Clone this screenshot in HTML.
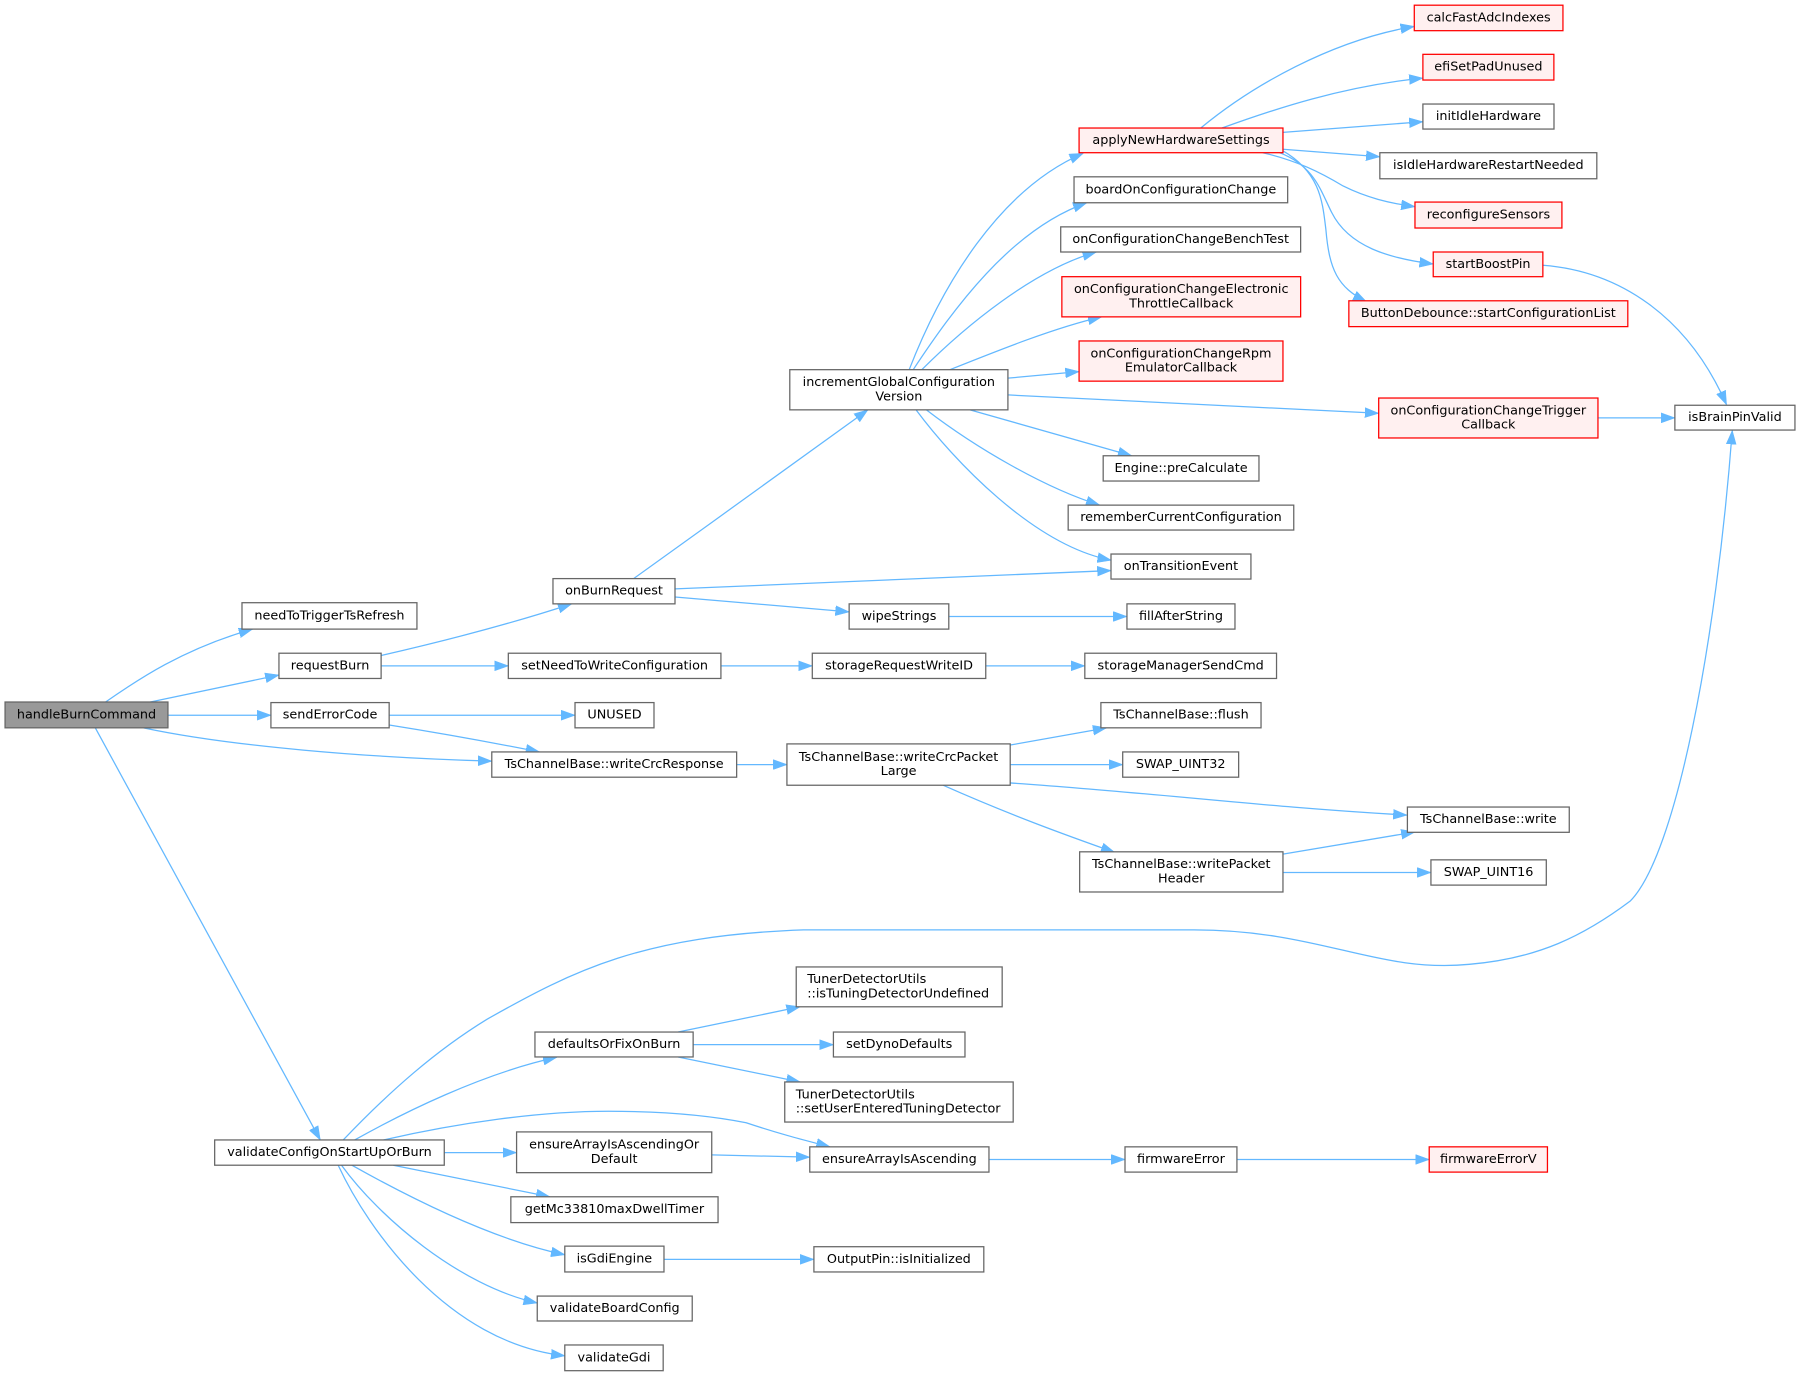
<!DOCTYPE html>
<html><head><meta charset="utf-8"><style>
html,body{margin:0;padding:0;background:#fff;}
svg{display:block;}
text{font-family:"DejaVu Sans","Liberation Sans",sans-serif;font-size:11.15px;fill:#000;dominant-baseline:central;}
.c{text-anchor:middle;}
.n{fill:#fff;stroke:#666;stroke-width:1.1;}
.r{fill:#fff0f0;stroke:#f00;stroke-width:1.1;}
.g{fill:#999;stroke:#666;stroke-width:1.1;}
.e{fill:none;stroke:#63b8ff;stroke-width:1.1;marker-end:url(#ah);}
</style></head><body>
<svg width="1800" height="1376" viewBox="0 0 1568 1198.6" xmlns="http://www.w3.org/2000/svg">
<defs>
<marker id="ah" markerUnits="userSpaceOnUse" viewBox="0 0 12 9" refX="12" refY="4.5" markerWidth="12" markerHeight="9" orient="auto">
<path d="M0,0.2 L12,4.5 L0,8.8 z" fill="#63b8ff" stroke="#63b8ff" stroke-width="0.5"/>
</marker>
</defs>
<rect width="1568" height="1198.6" fill="#fff"/>

<!-- edges -->
<path class="e" d="M92,611.5 C120,592 160,565 220,548"/>
<path class="e" d="M131,611.5 L243,588"/>
<path class="e" d="M146.3,623 L236,623"/>
<path class="e" d="M125,634 C200,650 320,660 428.4,663"/>
<path class="e" d="M83,634 L279,993"/>
<path class="e" d="M332,571 C380,560 440,545 498,526"/>
<path class="e" d="M332,580 L442.8,580"/>
<path class="e" d="M339,623 L500.9,623"/>
<path class="e" d="M339,631.5 C380,638 430,647 470,655"/>
<path class="e" d="M552,504 C620,455 690,405 756,357"/>
<path class="e" d="M588,513 L967.8,497"/>
<path class="e" d="M588,520 L739.7,533"/>
<path class="e" d="M628,580 L707.6,580"/>
<path class="e" d="M641.7,666 L685.5,666"/>
<path class="e" d="M299,993 C340,950 380,915 424,888 C500,845 560,815 700,810 L1040,810 C1150,810 1200,848 1280,840 C1340,835 1380,815 1420,785 C1460,745 1495,560 1509,375"/>
<path class="e" d="M309,993 C350,970 420,935 485,921"/>
<path class="e" d="M334,993 C400,978 470,968 530,968 C580,968 620,972 650,978 C680,988 700,993 723,999"/>
<path class="e" d="M387,1004 L450,1004"/>
<path class="e" d="M342.6,1015 L479,1042.5"/>
<path class="e" d="M306.5,1015 C360,1045 430,1080 492,1093"/>
<path class="e" d="M297.5,1015 C330,1060 400,1120 468,1135"/>
<path class="e" d="M294.6,1015 C320,1070 390,1170 492,1181"/>
<path class="e" d="M792,322 C820,250 870,165 943.6,133.5"/>
<path class="e" d="M795.5,322 C830,270 880,200 946.7,176.6"/>
<path class="e" d="M803,322 C840,285 900,235 955,219.5"/>
<path class="e" d="M827.5,322 C870,305 920,285 959.7,276"/>
<path class="e" d="M878,329.4 L940,323.7"/>
<path class="e" d="M878,344 L1201,360"/>
<path class="e" d="M845,357 L985.8,397"/>
<path class="e" d="M807,357 C850,390 910,425 958,440"/>
<path class="e" d="M798,357 C830,400 900,475 968,488"/>
<path class="e" d="M1046,111.5 C1090,75 1160,35 1232,23"/>
<path class="e" d="M1064.5,111.5 C1110,95 1170,75 1239.5,68"/>
<path class="e" d="M1117.6,115.3 L1239.5,106"/>
<path class="e" d="M1117.6,130 L1202,136.5"/>
<path class="e" d="M1100,133 C1130,140 1150,150 1170,162 C1190,172 1210,177 1232.6,180"/>
<path class="e" d="M1114.7,133 C1145,145 1150,165 1160,185 C1175,215 1210,225 1248.5,230"/>
<path class="e" d="M1117,131 C1150,150 1152,175 1155,200 C1158,235 1165,250 1190.5,263"/>
<path class="e" d="M1344,231 C1410,236 1470,275 1504,352.5"/>
<path class="e" d="M1392,364 L1459,364"/>
<path class="e" d="M826.5,537 L981.7,537"/>
<path class="e" d="M858.7,580 L945,580"/>
<path class="e" d="M880,649 L964,634"/>
<path class="e" d="M880,666 L978,666"/>
<path class="e" d="M880,682 C1000,690 1100,703 1225.6,710"/>
<path class="e" d="M821.5,684 C880,710 930,728 971,742.5"/>
<path class="e" d="M1117.6,744 L1232.6,724.7"/>
<path class="e" d="M1117.6,760 L1246.5,760"/>
<path class="e" d="M590.7,899 L697,877"/>
<path class="e" d="M603.8,910 L726,910"/>
<path class="e" d="M590.7,920.7 L697,942.5"/>
<path class="e" d="M620,1006 L705.4,1008"/>
<path class="e" d="M861.5,1010 L980,1010"/>
<path class="e" d="M1077.5,1010 L1245,1010"/>
<path class="e" d="M578.4,1097 L709,1097"/>

<!-- nodes -->
<rect class="g" x="4.4" y="611.5" width="141.9" height="22.5"/><text class="c" x="75.35" y="622.75">handleBurnCommand</text>
<rect class="n" x="210.8" y="525" width="152.4" height="23"/><text class="c" x="287" y="536.5">needToTriggerTsRefresh</text>
<rect class="n" x="243" y="569" width="89" height="22"/><text class="c" x="287.5" y="580">requestBurn</text>
<rect class="n" x="236" y="612" width="103" height="22"/><text class="c" x="287.5" y="623">sendErrorCode</text>
<rect class="n" x="428.4" y="655" width="213.3" height="22"/><text class="c" x="535" y="666">TsChannelBase::writeCrcResponse</text>
<rect class="n" x="187" y="993" width="200" height="22"/><text class="c" x="287" y="1004">validateConfigOnStartUpOrBurn</text>
<rect class="n" x="481.7" y="504" width="106.3" height="22"/><text class="c" x="534.85" y="515">onBurnRequest</text>
<rect class="n" x="442.8" y="569" width="185.2" height="22"/><text class="c" x="535.4" y="580">setNeedToWriteConfiguration</text>
<rect class="n" x="500.9" y="612" width="68.8" height="22"/><text class="c" x="535.3" y="623">UNUSED</text>
<rect class="n" x="688" y="322" width="190" height="35"/><text class="c" x="783" y="333.25">incrementGlobalConfiguration</text><text class="c" x="783" y="345.75">Version</text>
<rect class="n" x="739.7" y="526" width="86.8" height="22"/><text class="c" x="783.1" y="537">wipeStrings</text>
<rect class="n" x="707.6" y="569" width="151.1" height="22"/><text class="c" x="783.15" y="580">storageRequestWriteID</text>
<rect class="n" x="685.5" y="648" width="194.5" height="36"/><text class="c" x="782.75" y="659.75">TsChannelBase::writeCrcPacket</text><text class="c" x="782.75" y="672.25">Large</text>
<rect class="r" x="940" y="111.5" width="177.6" height="21.5"/><text class="c" x="1028.8" y="122.25">applyNewHardwareSettings</text>
<rect class="n" x="935.6" y="154" width="186.1" height="22.6"/><text class="c" x="1028.65" y="165.3">boardOnConfigurationChange</text>
<rect class="n" x="924" y="197.6" width="209" height="21.9"/><text class="c" x="1028.5" y="208.55">onConfigurationChangeBenchTest</text>
<rect class="r" x="925" y="241" width="208" height="35"/><text class="c" x="1029" y="252.25">onConfigurationChangeElectronic</text><text class="c" x="1029" y="264.75">ThrottleCallback</text>
<rect class="r" x="940" y="297" width="177.6" height="35"/><text class="c" x="1028.8" y="308.25">onConfigurationChangeRpm</text><text class="c" x="1028.8" y="320.75">EmulatorCallback</text>
<rect class="n" x="961" y="397" width="135.7" height="22"/><text class="c" x="1028.85" y="408">Engine::preCalculate</text>
<rect class="n" x="930.5" y="440" width="196.5" height="21.7"/><text class="c" x="1028.75" y="450.85">rememberCurrentConfiguration</text>
<rect class="n" x="967.8" y="482.6" width="121.9" height="21.8"/><text class="c" x="1028.75" y="493.5">onTransitionEvent</text>
<rect class="n" x="981.7" y="526" width="94.1" height="22"/><text class="c" x="1028.75" y="537">fillAfterString</text>
<rect class="n" x="945" y="569" width="167" height="22"/><text class="c" x="1028.5" y="580">storageManagerSendCmd</text>
<rect class="n" x="959" y="612" width="139.5" height="22"/><text class="c" x="1028.75" y="623">TsChannelBase::flush</text>
<rect class="n" x="978" y="655" width="101" height="22"/><text class="c" x="1028.5" y="666">SWAP_UINT32</text>
<rect class="n" x="940.5" y="742" width="177.1" height="35"/><text class="c" x="1029" y="753.25">TsChannelBase::writePacket</text><text class="c" x="1029" y="765.75">Header</text>
<rect class="r" x="1232" y="4.5" width="129.5" height="22.2"/><text class="c" x="1296.75" y="15.6">calcFastAdcIndexes</text>
<rect class="r" x="1239.5" y="47.3" width="114.1" height="22.4"/><text class="c" x="1296.55" y="58.5">efiSetPadUnused</text>
<rect class="n" x="1239.5" y="90.6" width="114.2" height="21.8"/><text class="c" x="1296.6" y="101.5">initIdleHardware</text>
<rect class="n" x="1202" y="133" width="189" height="22.7"/><text class="c" x="1296.5" y="144.35">isIdleHardwareRestartNeeded</text>
<rect class="r" x="1232.6" y="176" width="128" height="22.6"/><text class="c" x="1296.6" y="187.3">reconfigureSensors</text>
<rect class="r" x="1248.5" y="219.5" width="95.5" height="21.5"/><text class="c" x="1296.25" y="230.25">startBoostPin</text>
<rect class="r" x="1175" y="262" width="243" height="22.5"/><text class="c" x="1296.5" y="273.25">ButtonDebounce::startConfigurationList</text>
<rect class="r" x="1201" y="346.7" width="191" height="34.8"/><text class="c" x="1296.5" y="357.85">onConfigurationChangeTrigger</text><text class="c" x="1296.5" y="370.35">Callback</text>
<rect class="n" x="1459" y="353" width="104.6" height="21.6"/><text class="c" x="1511.3" y="363.8">isBrainPinValid</text>
<rect class="n" x="1226" y="703" width="141" height="22"/><text class="c" x="1296.5" y="714">TsChannelBase::write</text>
<rect class="n" x="1246.5" y="749" width="100.5" height="22"/><text class="c" x="1296.75" y="760">SWAP_UINT16</text>
<rect class="n" x="693.6" y="842.3" width="179.4" height="34.7"/><text x="703.2" y="853.4">TunerDetectorUtils</text><text x="703.2" y="865.9">::isTuningDetectorUndefined</text>
<rect class="n" x="466" y="899" width="137.8" height="21.7"/><text class="c" x="534.9" y="909.85">defaultsOrFixOnBurn</text>
<rect class="n" x="726" y="899" width="114.6" height="21.7"/><text class="c" x="783.3" y="909.85">setDynoDefaults</text>
<rect class="n" x="683.6" y="942.5" width="199" height="34.9"/><text x="693.2" y="953.7">TunerDetectorUtils</text><text x="693.2" y="966.2">::setUserEnteredTuningDetector</text>
<rect class="n" x="450" y="986" width="170" height="35.5"/><text class="c" x="535" y="997.5">ensureArrayIsAscendingOr</text><text class="c" x="535" y="1010">Default</text>
<rect class="n" x="705.4" y="999" width="156.1" height="22"/><text class="c" x="783.45" y="1010">ensureArrayIsAscending</text>
<rect class="n" x="980" y="999" width="97.5" height="22"/><text class="c" x="1028.75" y="1010">firmwareError</text>
<rect class="r" x="1245" y="999" width="103" height="22"/><text class="c" x="1296.5" y="1010">firmwareErrorV</text>
<rect class="n" x="445" y="1042.5" width="180.5" height="22.5"/><text class="c" x="535.25" y="1053.75">getMc33810maxDwellTimer</text>
<rect class="n" x="492" y="1085.5" width="86.4" height="22.5"/><text class="c" x="535.2" y="1096.75">isGdiEngine</text>
<rect class="n" x="709" y="1086" width="148" height="22"/><text class="c" x="783" y="1097">OutputPin::isInitialized</text>
<rect class="n" x="468" y="1129" width="135" height="21.7"/><text class="c" x="535.5" y="1139.85">validateBoardConfig</text>
<rect class="n" x="492" y="1171.6" width="85.7" height="22.4"/><text class="c" x="534.85" y="1182.8">validateGdi</text>
</svg>
</body></html>
